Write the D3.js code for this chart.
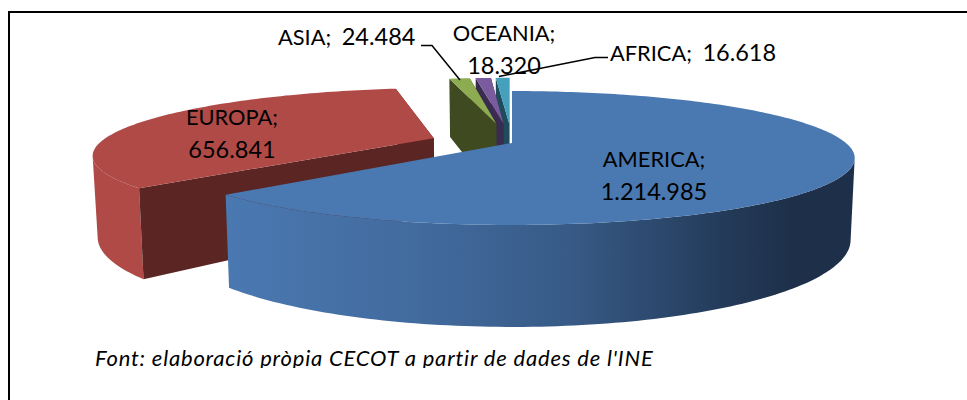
<!DOCTYPE html>
<html>
<head>
<meta charset="utf-8">
<script src="https://cdnjs.cloudflare.com/ajax/libs/d3/7.8.5/d3.min.js"></script>
<style>
  html, body { margin: 0; padding: 0; background: #fff; }
  svg { display: block; }
  text { font-family: Lato, "Open Sans", sans-serif; fill: #000; }
</style>
</head>
<body>
<svg id="chart" width="967" height="400"></svg>
<script>
const categories = ["AMERICA", "EUROPA", "ASIA", "OCEANIA", "AFRICA"];
const values = [1214985, 656841, 24484, 18320, 16618];
const valueLabels = ["1.214.985", "656.841", "24.484", "18.320", "16.618"];
const explode = [0, 0.25, 0.33, 0.33, 0.33];
const topColors = ["#4a78b1", "#b04a47", "#8dac52", "#7a5b9e", "#45a0bb"];
const wallColors = ["#3a5c88", "#5a2523", "#3f4a20", "#3a2c50", "#1e4c5c"];
const rimColors = [null, "#b04a47", "#3f4a20", "#3a2c50", "#1e4c5c"];

const width = 967, height = 400;
const svg = d3.select("#chart");

// disc is projected with some perspective, b makes the front bigger than the back
const cx = 512, b = 0.224;
const topPlane = { cy: 143, a: 63.6, r: 334 };
const botPlane = { cy: 220.5, a: 82.6, r: 330 };

const project = (plane, u, v) => {
  const k = 1 - b * v;
  return [cx + plane.r * u / k, plane.cy + plane.a * v / k];
};

// u,v on the unit disc for angle t (0 = back, clockwise), pushed out along mid
const discPoint = (t, rad, d, mid) => [
  rad * Math.sin(t) + d * Math.sin(mid),
  -rad * Math.cos(t) - d * Math.cos(mid)
];

const arcAngles = (s) => {
  const n = Math.max(4, Math.ceil((s.endAngle - s.startAngle) / 0.02));
  return d3.range(n + 1).map((i) => s.startAngle + (s.endAngle - s.startAngle) * i / n);
};

const line = d3.line();

const pie = d3.pie().sort(null).value((d) => d);
const slices = pie(values);

svg.append("rect").attr("width", width).attr("height", height).attr("fill", "#fff");

// frame, only the top and left sides show in the original
svg.append("path")
  .attr("d", line([[9, height], [9, 12], [width, 12]]))
  .attr("fill", "none").attr("stroke", "#000").attr("stroke-width", 2);

// side gradient for the big slice
const defs = svg.append("defs");
const grad = defs.append("linearGradient").attr("id", "sideBlue")
  .attr("gradientUnits", "userSpaceOnUse")
  .attr("x1", 226).attr("x2", 855).attr("y1", 0).attr("y2", 0);
[[0, "#4a78b1"], [0.3, "#426b9e"], [0.55, "#375a86"], [0.8, "#233a58"], [0.9, "#1e3049"], [1, "#1e3049"]]
  .forEach((s) => grad.append("stop").attr("offset", s[0]).attr("stop-color", s[1]));

const drawSlice = (s, i) => {
  const d = explode[i];
  const mid = (s.startAngle + s.endAngle) / 2;
  const g = svg.append("g").attr("class", "slice");
  const ang = arcAngles(s);
  const pt = (plane, t, rad) => {
    const p = discPoint(t, rad, d, mid);
    return project(plane, p[0], p[1]);
  };
  const rimTop = ang.map((t) => pt(topPlane, t, 1));
  const rimBot = ang.map((t) => pt(botPlane, t, 1));

  // outer side: only strips facing the viewer, joined into one path so no seams show
  const strips = d3.range(ang.length - 1)
    .map((j) => [rimTop[j], rimTop[j + 1], rimBot[j + 1], rimBot[j]])
    .filter((q) => d3.polygonArea(q) > 0);
  if (strips.length) {
    g.append("path")
      .attr("d", strips.map((q) => line(q) + "Z").join(""))
      .attr("fill", rimColors[i] || "url(#sideBlue)");
  }

  // the two cut faces
  if (i > 0) {
    [s.endAngle, s.startAngle].forEach((t) => {
      const q = [pt(topPlane, t, 0), pt(topPlane, t, 1), pt(botPlane, t, 1), pt(botPlane, t, 0)];
      g.append("path").attr("d", line(q) + "Z").attr("fill", wallColors[i]);
    });
  }

  // top face
  g.append("path")
    .attr("d", line([pt(topPlane, s.startAngle, 0)].concat(rimTop)) + "Z")
    .attr("fill", topColors[i]);
};

// back slices first, the big one goes on top
[4, 3, 2, 1, 0].forEach((i) => drawSlice(slices[i], i));

// leader lines
const leader = svg.append("g").attr("fill", "none").attr("stroke", "#000").attr("stroke-width", 1.5);
leader.append("path").attr("d", "M421,45.5L432,45.5L460,80");
leader.append("path").attr("d", "M499,76.5L527,71L595,57.5L608,57.5");

// data labels, digits run wider in the original so they get a bigger size
const labelSize = 21.8, valueSize = 23.5;
const addLabel = (i, x, y, twoLines) => {
  if (twoLines) {
    svg.append("text").attr("x", x).attr("y", y).attr("text-anchor", "middle")
      .attr("font-size", labelSize).text(categories[i] + ";");
    svg.append("text").attr("x", x).attr("y", y + 33).attr("text-anchor", "middle")
      .attr("font-size", valueSize).text(valueLabels[i]);
  } else {
    const t = svg.append("text").attr("x", x).attr("y", y).attr("font-size", labelSize);
    t.append("tspan").text(categories[i] + "; ");
    t.append("tspan").attr("dx", 5).attr("font-size", valueSize).text(valueLabels[i]);
  }
};
addLabel(0, 654, 167, true);
addLabel(1, 232, 125, true);
addLabel(2, 278, 45, false);
addLabel(3, 504, 41, true);
addLabel(4, 610, 61, false);

// source note, bottom of the letters is cut off in the original
defs.append("clipPath").attr("id", "noteClip").append("rect")
  .attr("x", 0).attr("y", 340).attr("width", width).attr("height", 28);
svg.append("text")
  .attr("x", 95).attr("y", 366)
  .attr("font-size", 22)
  .attr("letter-spacing", 0.8)
  .attr("font-style", "italic")
  .attr("clip-path", "url(#noteClip)")
  .text("Font: elaboració pròpia CECOT a partir de dades de l'INE");
</script>
</body>
</html>
